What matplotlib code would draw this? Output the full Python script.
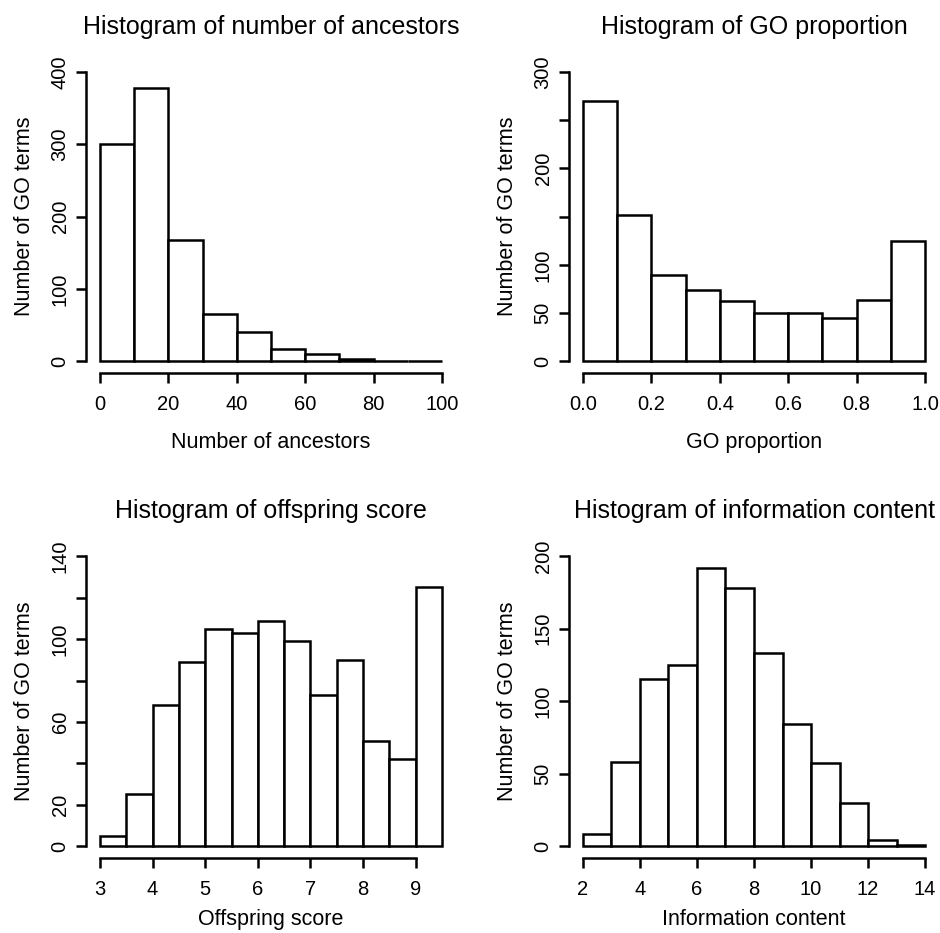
import matplotlib

matplotlib.use("Agg")
import matplotlib.pyplot as plt
import numpy as np

plt.rcParams["font.family"] = ["Liberation Sans", "DejaVu Sans"]

# histogram bins and counts
ancestor_edges = [0, 10, 20, 30, 40, 50, 60, 70, 80, 90, 100]
ancestor_counts = [300, 377, 168, 66, 40, 17, 10, 3, 1, 1]

proportion_edges = [0.0, 0.1, 0.2, 0.3, 0.4, 0.5, 0.6, 0.7, 0.8, 0.9, 1.0]
proportion_counts = [270, 152, 90, 74, 63, 50, 50, 45, 64, 125]

offspring_edges = [3.0, 3.5, 4.0, 4.5, 5.0, 5.5, 6.0, 6.5, 7.0, 7.5, 8.0, 8.5, 9.0, 9.5]
offspring_counts = [5, 25, 68, 89, 105, 103, 109, 99, 73, 90, 51, 42, 125]

info_edges = [2, 3, 4, 5, 6, 7, 8, 9, 10, 11, 12, 13, 14]
info_counts = [8, 58, 115, 125, 192, 178, 133, 84, 57, 30, 4, 1]

titles = [
    "Histogram of number of ancestors",
    "Histogram of GO proportion",
    "Histogram of offspring score",
    "Histogram of information content",
]
xlabels = ["Number of ancestors", "GO proportion", "Offspring score", "Information content"]
ylabel = "Number of GO terms"

xticks = [
    [0, 20, 40, 60, 80, 100],
    [0.0, 0.2, 0.4, 0.6, 0.8, 1.0],
    [3, 4, 5, 6, 7, 8, 9],
    [2, 4, 6, 8, 10, 12, 14],
]
xticklabels = [
    ["0", "20", "40", "60", "80", "100"],
    ["0.0", "0.2", "0.4", "0.6", "0.8", "1.0"],
    ["3", "4", "5", "6", "7", "8", "9"],
    ["2", "4", "6", "8", "10", "12", "14"],
]
yticks = [
    [0, 100, 200, 300, 400],
    [0, 50, 100, 150, 200, 250, 300],
    [0, 20, 40, 60, 80, 100, 120, 140],
    [0, 50, 100, 150, 200],
]
# R drops labels that would overlap
yticklabels = [
    ["0", "100", "200", "300", "400"],
    ["0", "50", "100", "", "200", "", "300"],
    ["0", "20", "", "60", "", "100", "", "140"],
    ["0", "50", "100", "150", "200"],
]

all_edges = [ancestor_edges, proportion_edges, offspring_edges, info_edges]
all_counts = [ancestor_counts, proportion_counts, offspring_counts, info_counts]

fig = plt.figure(figsize=(9.4, 9.33), dpi=100)

lefts = [86.3 / 940, 569.3 / 940]
bottoms = [1 - 373 / 933, 1 - 857.6 / 933]
w = 369.4 / 940
h = 312.8 / 933

lw = 1.8

for i in range(4):
    ax = fig.add_axes([lefts[i % 2], bottoms[i // 2], w, h])
    edges = np.array(all_edges[i], dtype=float)
    counts = np.array(all_counts[i])
    ax.bar(edges[:-1], counts, width=np.diff(edges), align="edge",
           facecolor="white", edgecolor="black", linewidth=lw)

    # R style 4% padding on both axes
    x0, x1 = edges[0], edges[-1]
    xpad = 0.04 * (x1 - x0)
    ax.set_xlim(x0 - xpad, x1 + xpad)
    y1 = yticks[i][-1]
    ax.set_ylim(-0.04 * y1, 1.04 * y1)

    for s in ["top", "right"]:
        ax.spines[s].set_visible(False)
    ax.spines["left"].set_bounds(yticks[i][0], yticks[i][-1])
    ax.spines["bottom"].set_bounds(xticks[i][0], xticks[i][-1])
    ax.spines["left"].set_linewidth(lw)
    ax.spines["bottom"].set_linewidth(lw)

    ax.set_xticks(xticks[i])
    ax.set_xticklabels(xticklabels[i])
    ax.set_yticks(yticks[i])
    ax.set_yticklabels(yticklabels[i], rotation=90, va="center")
    ax.tick_params(axis="both", length=7, width=lw, labelsize=14.5, color="black")
    ax.tick_params(axis="x", pad=9)
    ax.tick_params(axis="y", pad=5)

    ax.set_title(titles[i], fontsize=18, pad=19)
    ax.set_xlabel(xlabels[i], fontsize=15.5, labelpad=13 if i < 2 else 7)
    ax.set_ylabel(ylabel, fontsize=15.5, labelpad=11)

fig.savefig("out.png", dpi=100)
